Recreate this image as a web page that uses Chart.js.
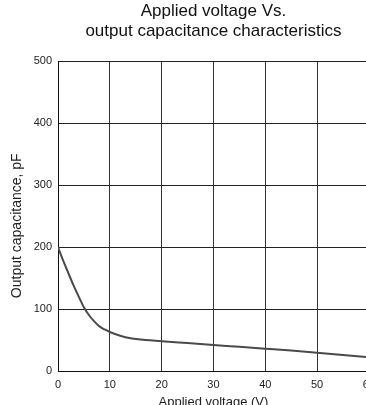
<!DOCTYPE html>
<html lang="en">
<head>
  <meta charset="UTF-8" />
  <title>Applied voltage Vs. output capacitance</title>
  <script src="https://cdn.jsdelivr.net/npm/chart.js"></script>
  <style>
    html, body { margin: 0; padding: 0; background: #fff; overflow: hidden; }
    #wrap { position: absolute; left: 0; top: 0; width: 382px; height: 414px; }
  </style>
</head>
<body>
  <div id="wrap"><canvas id="capChart"></canvas></div>

  <script>
    // applied voltage (V) and output capacitance (pF)
    const voltage = [0, 1, 2, 3, 4, 5, 6, 7, 8, 9, 10, 12, 14, 16, 20, 25, 30, 35, 40, 45, 50, 55, 60];
    const capacitance = [200, 178, 158, 138, 120, 103, 90, 80, 72, 67, 63, 57, 53, 51, 48, 45, 42, 39, 36, 33, 29.5, 26, 22];
    const xTicks = [0, 10, 20, 30, 40, 50, 60];
    const yTicks = [0, 100, 200, 300, 400, 500];

    const font = "Arial, 'Liberation Sans', sans-serif";

    new Chart(document.getElementById("capChart"), {
      type: "line",
      data: {
        datasets: [{
          data: voltage.map((v, i) => ({ x: v, y: capacitance[i] })),
          borderColor: "#4a4a4a",
          borderWidth: 2,
          pointRadius: 0,
          cubicInterpolationMode: "monotone",
          fill: false
        }]
      },
      options: {
        responsive: true,
        maintainAspectRatio: false,
        animation: false,
        layout: { padding: { top: 0, right: 12, left: 0, bottom: 0 } },
        plugins: {
          legend: { display: false },
          tooltip: { enabled: false },
          title: {
            display: true,
            fullSize: false,
            text: ["Applied voltage Vs.", "output capacitance characteristics"],
            color: "#111",
            font: { family: font, size: 17, weight: "normal", lineHeight: 1.15 },
            padding: { top: 2, bottom: 20 }
          }
        },
        scales: {
          x: {
            type: "linear",
            min: 0, max: 60,
            afterBuildTicks: s => { s.ticks = xTicks.map(v => ({ value: v })); },
            afterFit: s => { s.height = 43; },
            grid: { color: "#333", lineWidth: 1, drawTicks: false },
            border: { color: "#111", width: 1 },
            ticks: { color: "#222", font: { family: font, size: 11 }, padding: 7, maxRotation: 0 },
            title: { display: true, text: "Applied voltage (V)", color: "#222", font: { family: font, size: 13 }, padding: { top: 5 } }
          },
          y: {
            min: 0, max: 500,
            afterBuildTicks: s => { s.ticks = yTicks.map(v => ({ value: v })); },
            afterFit: s => { s.width = 58; },
            grid: { color: "#222", lineWidth: 1, drawTicks: false },
            border: { color: "#111", width: 1 },
            ticks: { color: "#222", font: { family: font, size: 11 }, padding: 6 },
            title: {
              display: true,
              // trailing spaces push the centred label a little lower, as in the original
              text: "Output capacitance, pF\u00a0\u00a0\u00a0\u00a0\u00a0",
              color: "#222",
              font: { family: font, size: 14 },
              padding: { top: 9, bottom: 0 }
            }
          }
        }
      }
    });
  </script>
</body>
</html>
